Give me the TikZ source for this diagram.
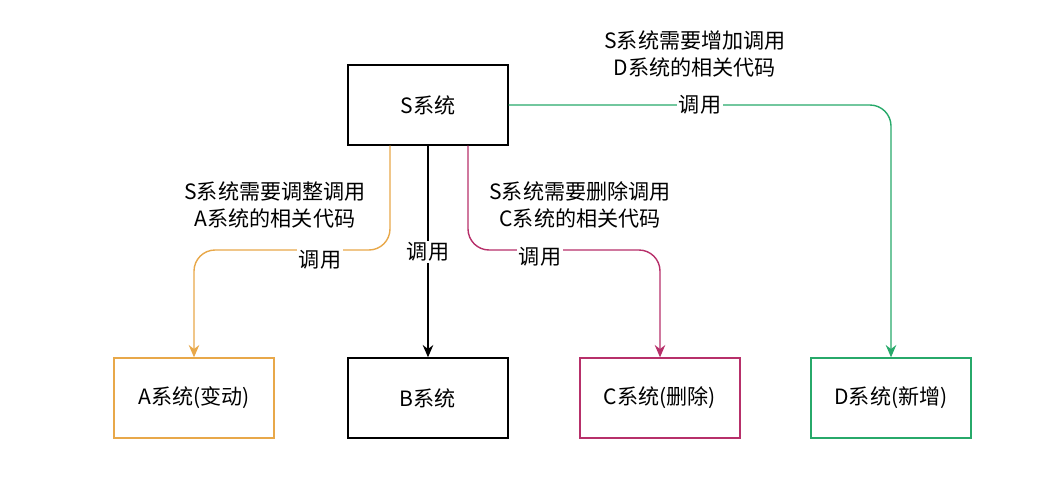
\documentclass[tikz,border=0pt]{standalone}
\usepackage{fontspec}
\setmainfont{Noto Sans CJK SC}
\usetikzlibrary{positioning,calc,arrows.meta}
\definecolor{aorange}{HTML}{E8A84A}
\definecolor{cred}{HTML}{B7306A}
\definecolor{dgreen}{HTML}{27A96A}
\begin{document}
\begin{tikzpicture}[>={Stealth[length=7pt,width=6pt]},x=0.02cm,y=-0.02cm,font=\fontsize{12}{15}\selectfont]
	\useasboundingbox (0,0) rectangle (1060,480);
	\tikzset{sysbox/.style={draw,thick,minimum width=3.2cm,minimum height=1.6cm},
		callnote/.style={fill=white,inner sep=1pt},
		calllink/.style={thick,rounded corners=12pt,->}}

	\node[sysbox] (s) at (428,105) {S系统};

	\node[sysbox,draw=aorange] (a) at (194,398) {A系统(变动)};
	\node[sysbox] (b) at (428,398) {B系统};
	\node[sysbox,draw=cred] (c) at (660,398) {C系统(删除)};
	\node[sysbox,draw=dgreen] (d) at (891,398) {D系统(新增)};

	\draw[calllink,aorange] ($(s.south)+(-38,0)$) |- (250,250) -| (a.north);
	\draw[calllink] (s.south) -- (b.north);
	\draw[calllink,cred] ($(s.south)+(40,0)$) |- (600,250) -| (c.north);
	\draw[calllink,dgreen] (s.east) -| (d.north);

	\node[callnote] (la) at (320,260) {调用};
	\node[callnote] (lb) at (428,252) {调用};
	\node[callnote] (lc) at (540,257) {调用};
	\node[callnote] (ld) at (700,105) {调用};

	\node[align=center] (ta) at (275,205) {S系统需要调整调用\\A系统的相关代码};
	\node[align=center] (tc) at (580,205) {S系统需要删除调用\\C系统的相关代码};
	\node[align=center] (td) at (695,54) {S系统需要增加调用\\D系统的相关代码};
\end{tikzpicture}
\end{document}
